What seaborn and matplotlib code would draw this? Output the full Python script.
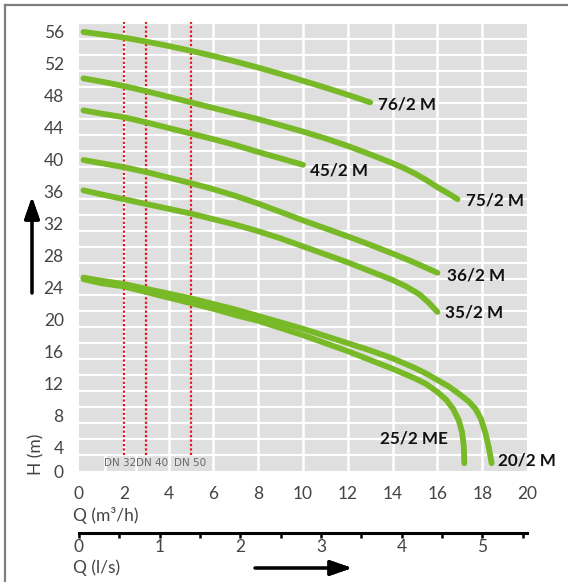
import numpy as np
import pandas as pd
import seaborn as sns
import matplotlib.pyplot as plt
from matplotlib.lines import Line2D
from matplotlib.ticker import MultipleLocator

# pump curves: Q (m3/h) vs H (m)
q_76 = [0.2, 1, 2, 3, 4, 5, 6, 7, 8, 9, 10, 11, 12, 13]
h_76 = [56.0, 55.7, 55.3, 54.8, 54.25, 53.65, 53.0, 52.3, 51.55, 50.75, 49.9, 49.05, 48.15, 47.2]
q_75 = [0.2, 1, 2, 3, 4, 5, 6, 7, 8, 9, 10, 11, 12, 13, 14, 14.5, 15, 15.5, 16, 16.5, 16.9]
h_75 = [50.2, 49.8, 49.25, 48.6, 47.9, 47.2, 46.5, 45.8, 45.1, 44.35, 43.55, 42.7, 41.75, 40.7,
        39.6, 39.0, 38.3, 37.5, 36.6, 35.8, 35.1]
q_45 = [0.2, 1, 2, 3, 4, 5, 6, 7, 8, 9, 10]
h_45 = [46.2, 45.8, 45.35, 44.7, 44.0, 43.3, 42.6, 41.85, 41.0, 40.2, 39.4]
q_36 = [0.2, 1, 2, 3, 4, 5, 6, 7, 8, 9, 10, 11, 12, 13, 14, 15, 16]
h_36 = [40.0, 39.6, 39.1, 38.5, 37.8, 37.1, 36.35, 35.5, 34.55, 33.5, 32.45, 31.45, 30.45, 29.4,
        28.3, 27.15, 25.9]
q_35 = [0.2, 1, 2, 3, 4, 5, 6, 7, 8, 9, 10, 11, 12, 13, 14, 14.6, 15.2, 15.6, 16]
h_35 = [36.2, 35.7, 35.1, 34.5, 33.9, 33.3, 32.6, 31.9, 31.1, 30.2, 29.2, 28.2, 27.2, 26.1,
        25.0, 24.2, 23.2, 22.2, 21.0]
q_25e = [0.2, 1, 2, 3, 4, 5, 6, 7, 8, 9, 10, 11, 12, 13, 14, 15, 15.5, 16, 16.4, 16.7,
         16.95, 17.1, 17.18, 17.2]
h_25e = [25.1, 24.6, 24.2, 23.5, 22.8, 22.1, 21.4, 20.6, 19.9, 19.0, 18.1, 17.1, 16.1, 15.0,
         13.9, 12.7, 12.0, 11.0, 10.0, 8.9, 7.5, 6.0, 4.2, 2.1]
q_20 = [0.2, 1, 2, 3, 4, 5, 6, 7, 8, 9, 10, 11, 12, 13, 14, 15, 15.5, 16, 16.5, 17, 17.4,
        17.7, 17.95, 18.15, 18.3, 18.42]
h_20 = [25.3, 24.9, 24.5, 23.9, 23.3, 22.7, 22.0, 21.3, 20.5, 19.7, 18.9, 18.0, 17.1, 16.2,
        15.2, 14.0, 13.3, 12.5, 11.7, 10.7, 9.8, 8.9, 7.6, 5.8, 4.0, 2.1]

models = ["76/2 M", "75/2 M", "45/2 M", "36/2 M", "35/2 M", "25/2 ME", "20/2 M"]
curves_q = [q_76, q_75, q_45, q_36, q_35, q_25e, q_20]
curves_h = [h_76, h_75, h_45, h_36, h_35, h_25e, h_20]
label_x = [13.35, 17.28, 10.31, 16.43, 16.34, 13.44, 18.7]
label_y = [47.0, 34.9, 38.75, 25.6, 20.9, 5.25, 2.4]

dn_pipes = [2, 3, 5]
dn_labels = ["DN 32", "DN 40", "DN 50"]
dn_label_x = [1.83, 3.26, 4.96]

y_ticks = [0, 4, 8, 12, 16, 20, 24, 28, 32, 36, 40, 44, 48, 52, 56]
x_ticks = [0, 2, 4, 6, 8, 10, 12, 14, 16, 18, 20]
ls_ticks = [0, 1, 2, 3, 4, 5]

rows = []
for m, qs, hs in zip(models, curves_q, curves_h):
    for q, h in zip(qs, hs):
        rows.append({"model": m, "Q": q, "H": h})
df = pd.DataFrame(rows)

W, H = 568, 582
fig = plt.figure(figsize=(W / 100, H / 100), dpi=100)
plt.rcParams['font.family'] = ['Lato', 'DejaVu Sans']

y_lo, y_hi = 1.125, 57.25
ax = fig.add_axes([79 / W, (H - 471) / H, 448 / W, 449 / H])
ax.set_facecolor("#dfdfdf")
ax.set_xlim(0, 20)
ax.set_ylim(y_lo, y_hi)
for s in ax.spines.values():
    s.set_visible(False)

# white grid
ax.hlines(np.arange(y_lo + 2, y_hi, 2), 0, 20, color="white", lw=1.6, zorder=1)
ax.vlines(np.arange(4, 20, 2), y_lo, y_hi, color="white", lw=1.8, zorder=1)
ax.vlines([2], y_lo + 2, y_hi, color="white", lw=1.8, zorder=1)
ax.vlines([1.16, 2.54], y_lo, y_lo + 2, color="white", lw=1.8, zorder=1)

# pipe diameter markers
ax.vlines(dn_pipes, y_lo + 2, y_hi, color="#e3141b", lw=1.6, linestyles=(0, (1, 1)), zorder=2)
for xl, t in zip(dn_label_x, dn_labels):
    ax.text(xl, y_lo + 1.0, t, ha="center", va="center", fontsize=7.5, color="#6a6a6a",
            family=["Liberation Sans Narrow", "DejaVu Sans"])

sns.lineplot(data=df, x="Q", y="H", units="model", estimator=None, sort=False,
             color="#78b928", lw=4.2, solid_capstyle="round", solid_joinstyle="round",
             ax=ax, zorder=3)

for m, lx, ly in zip(models, label_x, label_y):
    ax.text(lx, ly, m, ha="left", va="center", fontsize=12.3, fontweight="bold",
            color="#111111", clip_on=False)

ax.set_xlabel("")
ax.set_ylabel("")
ax.set_xticks(x_ticks)
ax.set_xticklabels([str(v) for v in x_ticks])
tick_pos = [y_lo] + y_ticks[1:]
ax.set_yticks(tick_pos)
ax.set_yticklabels([str(v) for v in y_ticks])
ax.tick_params(axis="both", length=0, labelsize=12.5, labelcolor="#444444")
ax.tick_params(axis="x", pad=11)
ax.tick_params(axis="y", pad=11)
ax.grid(False)

# secondary l/s axis
sec = ax.secondary_xaxis(-62 / 449, functions=(lambda q: q / 3.6, lambda q: q * 3.6))
sec.set_xticks(ls_ticks)
sec.set_xticklabels([str(v) for v in ls_ticks])
sec.xaxis.set_minor_locator(MultipleLocator(0.5))
sec.spines["bottom"].set_linewidth(2.2)
sec.tick_params(which="both", direction="out", length=3.5, width=1.8, color="black",
                labelsize=12.5, labelcolor="#444444", pad=1)


def fx(x):
    return x / W


def fy(y):
    return 1 - y / H


fig.text(fx(73), fy(515), "Q (m³/h)", ha="left", va="center", fontsize=12.5, color="#444444")
fig.text(fx(73), fy(568), "Q (l/s)", ha="left", va="center", fontsize=12.5, color="#444444")
fig.text(fx(36.5), fy(454), "H (m)", ha="center", va="center", rotation=90,
         fontsize=12.5, color="#444444")

arrow = dict(arrowstyle="-|>,head_length=0.95,head_width=0.33", lw=2.2, color="black",
             mutation_scale=14, shrinkA=0, shrinkB=0)
fig.add_artist(plt.annotate("", xy=(32, H - 197), xytext=(32, H - 293),
                            xycoords="figure pixels", arrowprops=arrow))
fig.add_artist(plt.annotate("", xy=(352, H - 568), xytext=(255, H - 568),
                            xycoords="figure pixels", arrowprops=arrow))

# frame edges
fig.add_artist(Line2D([fx(5), 1], [fy(5), fy(5)], color="#7f7f7f", lw=1.6))
fig.add_artist(Line2D([fx(5), fx(5)], [0, fy(5)], color="#7f7f7f", lw=1.6))

fig.savefig("out.png", dpi=100, facecolor="white")
